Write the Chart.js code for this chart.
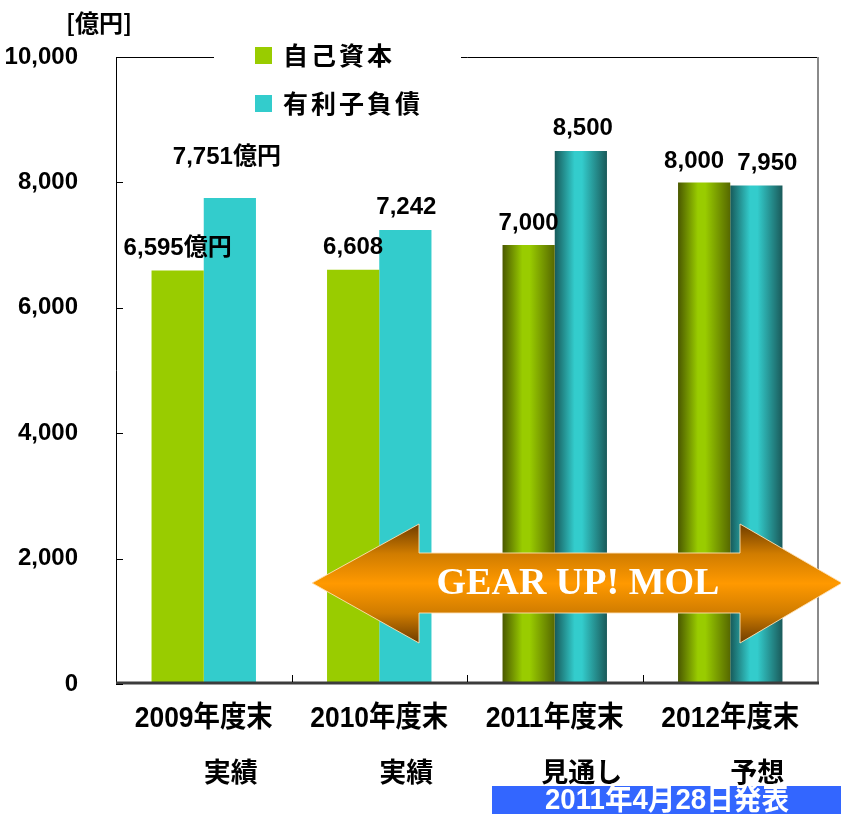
<!DOCTYPE html>
<html>
<head>
<meta charset="utf-8">
<script src="https://cdn.jsdelivr.net/npm/chart.js@4.4.1/dist/chart.umd.min.js"></script>
<style>
  html, body { margin: 0; padding: 0; background: #fff; }
  #wrap { width: 841px; height: 814px; }
</style>
</head>
<body>
<div id="wrap"><canvas id="chart" width="841" height="814"></canvas></div>
<script>
// Data
const categories = ['2009年度末', '2010年度末', '2011年度末', '2012年度末'];
const subLabels = ['実績', '実績', '見通し', '予想'];
const seriesNames = ['自己資本', '有利子負債'];
const equity = [6595, 6608, 7000, 8000];
const debt = [7751, 7242, 8500, 7950];
const valueSuffix = ['億円', '', '', ''];
const yTicks = [0, 2000, 4000, 6000, 8000, 10000];
const shadedFrom = 2;   // 見通し・予想 are drawn with cylinder shading
const announceText = '2011年4月28日発表';
const bannerText = 'GEAR UP! MOL';

// Styling
const GREEN = '#99cc00';
const CYAN = '#33cccc';
const SANS = "'Liberation Sans', Arial, 'Noto Sans CJK JP', sans-serif";
const CJK = "'Noto Sans CJK JP', sans-serif";
const CAT_PCT = 0.595;

// label nudges (dx, dy from bar top centre)
const labelNudge = [
  [[0, -22], [0, -22], [0, -22], [-10, -21]],
  [[-3, -41], [1, -23], [2, -23], [11, -22]]
];

function barFill(base, dark, darkRight) {
  return (ctx) => {
    if (ctx.type !== 'data' || ctx.dataIndex < shadedFrom) return base;
    const chart = ctx.chart;
    const x = chart.scales.x;
    if (!x || !chart.chartArea) return base;
    const cat = x.getPixelForValue(1) - x.getPixelForValue(0);
    const w = cat * CAT_PCT / 2;
    const c = x.getPixelForValue(ctx.dataIndex);
    const left = ctx.datasetIndex === 0 ? c - w : c;
    const g = chart.ctx.createLinearGradient(left, 0, left + w, 0);
    g.addColorStop(0, dark);
    g.addColorStop(0.38, base);
    g.addColorStop(0.52, base);
    g.addColorStop(1, darkRight);
    return g;
  };
}

// text squeezed horizontally to a given width (condensed gothic look)
function squeezedText(ctx, txt, cx, cy, width) {
  const w = ctx.measureText(txt).width;
  const k = Math.min(1, width / w);
  ctx.save();
  ctx.translate(cx, cy);
  ctx.scale(k, 1);
  ctx.textAlign = 'center';
  ctx.fillText(txt, 0, 0);
  ctx.restore();
}

const decorations = {
  id: 'decorations',
  afterDraw(chart) {
    const ctx = chart.ctx;
    const { left, right, top, bottom } = chart.chartArea;
    const x = chart.scales.x, y = chart.scales.y;
    const cat = x.getPixelForValue(1) - x.getPixelForValue(0);
    ctx.save();

    // frame
    ctx.strokeStyle = '#000';
    ctx.lineWidth = 1;
    ctx.beginPath();
    ctx.moveTo(left + 0.5, bottom); ctx.lineTo(left + 0.5, top + 0.5); ctx.lineTo(right, top + 0.5);
    ctx.stroke();
    ctx.strokeStyle = '#8a8a8a';
    ctx.lineWidth = 2;
    ctx.beginPath(); ctx.moveTo(right, top); ctx.lineTo(right, bottom); ctx.stroke();
    ctx.strokeStyle = '#3c3c3c';
    ctx.lineWidth = 3;
    ctx.beginPath(); ctx.moveTo(left, bottom - 1); ctx.lineTo(right + 1, bottom - 1); ctx.stroke();

    // inside tick marks
    ctx.strokeStyle = '#000';
    ctx.lineWidth = 1;
    yTicks.forEach(v => {
      const py = Math.round(y.getPixelForValue(v)) + 0.5;
      ctx.beginPath(); ctx.moveTo(left, py); ctx.lineTo(left + 7, py); ctx.stroke();
    });
    for (let i = 0; i < categories.length - 1; i++) {
      const px = Math.round(x.getPixelForValue(i) + cat / 2) + 0.5;
      ctx.beginPath(); ctx.moveTo(px, bottom - 2); ctx.lineTo(px, bottom - 9); ctx.stroke();
    }

    // value labels
    ctx.fillStyle = '#000';
    ctx.font = 'bold 24px ' + SANS;
    ctx.textAlign = 'center';
    ctx.textBaseline = 'middle';
    chart.data.datasets.forEach((ds, di) => {
      chart.getDatasetMeta(di).data.forEach((bar, i) => {
        const [dx, dy] = labelNudge[di][i];
        const txt = ds.data[i].toLocaleString('en-US') + valueSuffix[i];
        ctx.fillText(txt, bar.x + dx, bar.y + dy);
      });
    });

    // category labels, two lines
    ctx.font = 'bold 29px ' + SANS;
    categories.forEach((s, i) => {
      squeezedText(ctx, s, x.getPixelForValue(i), 719, 138);
    });
    ctx.font = 'bold 27px ' + CJK;
    subLabels.forEach((s, i) => {
      ctx.fillText(s, x.getPixelForValue(i) + 27, 772);
    });

    // unit
    ctx.font = 'bold 24px ' + CJK;
    ctx.fillText('[億円]', 99, 23);

    // legend
    ctx.fillStyle = '#fff';
    ctx.fillRect(214, 30, 247, 90);
    [GREEN, CYAN].forEach((col, i) => {
      const cy = 55 + i * 48;
      ctx.fillStyle = col;
      ctx.fillRect(255, cy - 8, 17, 17);
      ctx.fillStyle = '#000';
      ctx.textAlign = 'left';
      ctx.font = 'bold 25px ' + CJK;
      ctx.letterSpacing = '3px';
      ctx.fillText(seriesNames[i], 283, cy);
      ctx.letterSpacing = '0px';
    });

    // double arrow banner
    const ay = 583;
    ctx.beginPath();
    ctx.moveTo(312, ay);
    ctx.lineTo(419, 524);
    ctx.lineTo(419, 553);
    ctx.lineTo(740, 553);
    ctx.lineTo(740, 524);
    ctx.lineTo(842, ay);
    ctx.lineTo(740, 643);
    ctx.lineTo(740, 613);
    ctx.lineTo(419, 613);
    ctx.lineTo(419, 643);
    ctx.closePath();
    const g = ctx.createLinearGradient(0, 524, 0, 643);
    g.addColorStop(0, '#6e3c00');
    g.addColorStop(0.25, '#d07c00');
    g.addColorStop(0.5, '#ff9900');
    g.addColorStop(0.75, '#d07c00');
    g.addColorStop(1, '#6e3c00');
    ctx.fillStyle = g;
    ctx.fill();
    ctx.strokeStyle = 'rgba(255, 225, 180, 0.9)';
    ctx.lineWidth = 1;
    ctx.stroke();
    ctx.fillStyle = '#fff';
    ctx.textAlign = 'center';
    ctx.font = "bold 38px 'Liberation Serif', 'Times New Roman', serif";
    ctx.fillText(bannerText, 578, ay + 1);

    // announcement box
    ctx.fillStyle = '#3366ff';
    ctx.fillRect(492, 786, 349, 28);
    ctx.fillStyle = '#fff';
    ctx.font = 'bold 30px ' + SANS;
    squeezedText(ctx, announceText, 667, 801, 244);

    ctx.restore();
  }
};

const data = {
  labels: categories,
  datasets: [
    {
      label: seriesNames[0],
      data: equity,
      backgroundColor: barFill(GREEN, '#4a5800', '#566800'),
      categoryPercentage: CAT_PCT,
      barPercentage: 1.0
    },
    {
      label: seriesNames[1],
      data: debt,
      backgroundColor: barFill(CYAN, '#175a5a', '#1a5a5a'),
      categoryPercentage: CAT_PCT,
      barPercentage: 1.0
    }
  ]
};

const config = {
  type: 'bar',
  data: data,
  options: {
    responsive: false,
    animation: false,
    layout: { padding: { top: 57, right: 23, left: 0, bottom: 0 } },
    plugins: {
      legend: { display: false },
      tooltip: { enabled: false }
    },
    scales: {
      x: {
        grid: { display: false },
        border: { display: false },
        ticks: { display: false },
        afterFit: (s) => { s.height = 130; }
      },
      y: {
        min: 0,
        max: 10000,
        grid: { display: false },
        border: { display: false },
        afterBuildTicks: (s) => { s.ticks = yTicks.map(v => ({ value: v })); },
        ticks: {
          color: '#000',
          font: { family: SANS, size: 24, weight: 'bold' },
          padding: 30,
          callback: (v) => v.toLocaleString('en-US')
        },
        afterFit: (s) => { s.width = 116; }
      }
    }
  },
  plugins: [decorations]
};

new Chart(document.getElementById('chart').getContext('2d'), config);
</script>
</body>
</html>
